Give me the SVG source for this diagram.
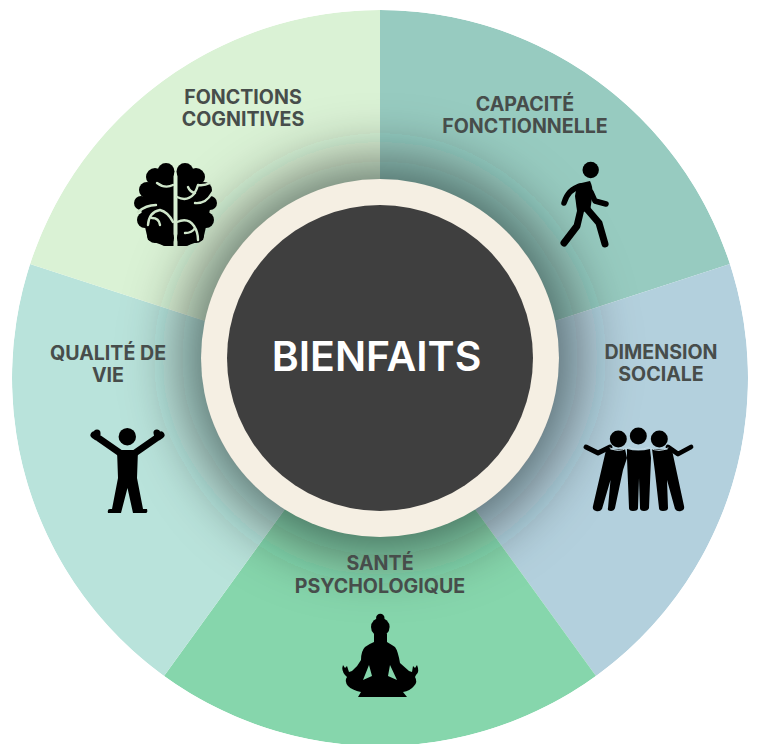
<svg xmlns="http://www.w3.org/2000/svg" width="757" height="744" viewBox="0 0 757 744">
<style>
.lbl{font-family:Inter,"Liberation Sans",Arial,sans-serif;font-weight:700;font-size:19.600px;fill:#474d4b;text-anchor:middle}
.ic{fill:#000;stroke:none}
.ln{fill:none;stroke:#000;stroke-linecap:round;stroke-linejoin:round}
.fold{fill:none;stroke:#cfe6ca;stroke-width:2.400;stroke-linecap:round;stroke-linejoin:round}
</style>
<defs>
<clipPath id="disc"><circle cx="380" cy="378" r="368"/></clipPath>
<filter id="blur" x="-40%" y="-40%" width="180%" height="180%"><feGaussianBlur stdDeviation="30"/></filter>
</defs>
<rect width="757" height="744" fill="#fff"/>
<g id="wheel" clip-path="url(#disc)">
<path d="M380 378L380 10A368 368 0 0 1 730 264Z" fill="#97cbc0"/>
<path d="M380 378L730 264A368 368 0 0 1 596 676Z" fill="#b3d0dd"/>
<path d="M380 378L596 676A368 368 0 0 1 164 676Z" fill="#86d6ac"/>
<path d="M380 378L164 676A368 368 0 0 1 30 264Z" fill="#b9e3db"/>
<path d="M380 378L30 264A368 368 0 0 1 380 10Z" fill="#daf2d5"/>
<circle cx="380" cy="358" r="198" fill="#1c2a28" fill-opacity=".58" filter="url(#blur)"/>
</g>
<g id="center">
<circle cx="380" cy="358" r="179" fill="#f5efe3"/>
<circle cx="380" cy="358" r="153" fill="#3f3f3f"/>
<text x="376.500" y="371" font-family="Inter,'Liberation Sans',sans-serif" font-weight="600" font-size="41" fill="#fff" text-anchor="middle">BIENFAITS</text>
</g>
<g id="fonctions-cognitives">
<text class="lbl" x="243" y="104">FONCTIONS</text>
<text class="lbl" x="243" y="126">COGNITIVES</text>
<g class="ic">
<path d="M173.500 170V246H165L148 240L140 205L155 172Z"/>
<circle cx="166" cy="171.500" r="8.500"/><circle cx="155" cy="177" r="9"/><circle cx="147" cy="190" r="8"/><circle cx="141" cy="203" r="7"/><circle cx="145" cy="220" r="8"/><circle cx="155" cy="235" r="8"/><circle cx="166" cy="238" r="8"/>
<path d="M177.500 170V246H186L203 240L211 205L196 172Z"/>
<circle cx="185" cy="171.500" r="8.500"/><circle cx="196" cy="177" r="9"/><circle cx="204" cy="190" r="8"/><circle cx="210" cy="203" r="7"/><circle cx="206" cy="220" r="8"/><circle cx="196" cy="235" r="8"/><circle cx="185" cy="238" r="8"/>
</g>
<path class="fold" d="M157 183Q165 189 173 185M138 212Q146 205 156 205M148 225Q149 212 160 210Q168 212 173 222M152 218Q159 218 160 225M177 197Q187 202 194 194Q197 189 198 185Q204 186 210 183M188 187Q190 192 195 193M195 203Q206 204 212 193M177 222Q188 217 194 226Q198 232 198 240M185 233Q192 233 195 228"/>
</g>
<g id="capacite-fonctionnelle">
<text class="lbl" x="525" y="111">CAPACITÉ</text>
<text class="lbl" x="525" y="133">FONCTIONNELLE</text>
<circle class="ic" cx="590.700" cy="170" r="8.200"/>
<path class="ic" d="M577 184L590 181Q593 187 592.500 194L590 212L577 211L575 196Z"/>
<path class="ln" stroke-width="5.500" d="M581 186Q568 189 564 203M591 192L595 201L606 204"/>
<path class="ln" stroke-width="7" d="M581 209L577 226L564 243M587 209L599 223L605 244"/>
</g>
<g id="dimension-sociale">
<text class="lbl" x="661" y="359">DIMENSION</text>
<text class="lbl" x="661" y="381">SOCIALE</text>
<path class="ln" stroke-width="4.800" d="M586 447L598 453L610 447M691 447L678 454L668 447"/>
<path class="ic" d="M606 450L625 449L627 458L623 470L615 508Q614 511 611 511Q607 511 608 508L610.500 480L602 509Q600 512 596 511Q592 510 593 506Z"/>
<path class="ic" d="M627 449Q638 452 650 449L651 458L649 508Q648 511 644 511Q640 511 640 508L639 478L638 508Q638 511 633 511Q629 511 629 508L627 458Z"/>
<path class="ic" d="M652 449L672 450L684 506Q685 510 681 511Q677 512 675 509L667 480L668 508Q668 511 663 511Q659 511 659 508L655 472Z"/>
<path class="ln" style="stroke:#c6dde6" stroke-width="1" d="M610 448Q618 453 627 448M628 447Q638 452 649 447M650 448Q659 453 668 448"/>
<circle class="ic" cx="618.300" cy="439" r="8.500"/><circle class="ic" cx="638.300" cy="436" r="8.500"/><circle class="ic" cx="659.300" cy="439" r="8.500"/>
</g>
<g id="sante-psychologique">
<text class="lbl" x="380" y="570">SANTÉ</text>
<text class="lbl" x="380" y="592.500">PSYCHOLOGIQUE</text>
<circle class="ic" cx="380.300" cy="627" r="9.300"/><circle class="ic" cx="380.300" cy="618" r="4.200"/>
<path class="ic" fill-rule="evenodd" d="M374 634H387V642Q392 645 395 647Q398 651 400 663L409 671L412 672L413 666L415 668L417 665Q420 672 416 675L415 677Q418 682 414 686Q410 691 403 692L407 697H358L361 692Q352 690 348 686Q344 681 347 677L345 675Q341 670 343 665L345 668L347 666L349 672L352 671Q358 666 361 660Q361 651 365 647Q369 644 374 642ZM369 665L363 680L372 676ZM390 665L388 676L397 680Z"/>
</g>
<g id="qualite-de-vie">
<text class="lbl" x="108" y="360">QUALITÉ DE</text>
<text class="lbl" x="108" y="382">VIE</text>
<circle class="ic" cx="127.300" cy="436.700" r="8.700"/>
<path class="ln" stroke-width="7" d="M97 437L120 453M158 437L135 453M97 437L94 435M97 437L97 433M158 437L161 435M158 437L157 433"/>
<path class="ic" d="M117 450H138L137 478L143 509L147 509Q148 513 146 513H133L127.500 488L121 513H108Q107 509 110 509H112L118 478Z"/>
</g>
</svg>
